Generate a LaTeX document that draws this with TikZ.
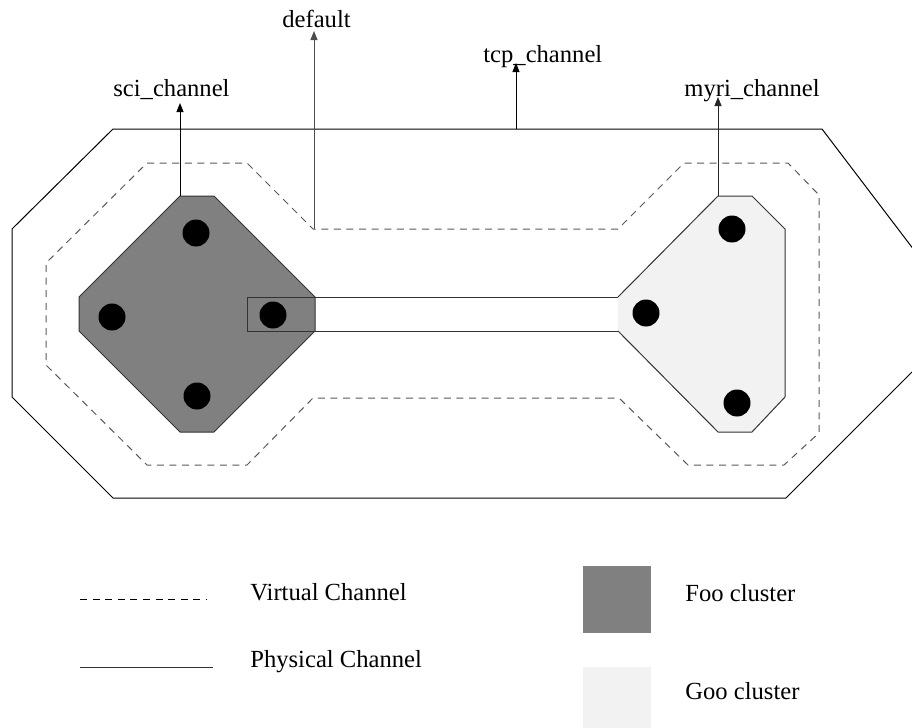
\documentclass[tikz,border=0pt]{standalone}
\usepackage{fontspec}
\setmainfont{Liberation Serif}
\usetikzlibrary{arrows.meta}

\definecolor{fooGray}{HTML}{808080}
\definecolor{gooGray}{HTML}{F2F2F2}

\tikzset{
  dot/.style={circle, fill=black, inner sep=0pt, minimum size=13.5pt},
  lbl/.style={anchor=base west, inner sep=0pt, font=\fontsize{12.3}{14}\selectfont},
  vchan/.style={draw=black!65, line width=0.5pt, dash pattern=on 3.5pt off 2.8pt},
  pchan/.style={draw=black, line width=0.5pt},
  edge/.style={draw=black!80, line width=0.5pt},
  up/.style={-{Triangle[length=4.5pt,width=3.5pt]}, line width=0.5pt},
}

\begin{document}
\begin{tikzpicture}[x=0.5pt, y=-0.5pt]
    \useasboundingbox (0,0) rectangle (912,728);
    \clip (0,0) rectangle (912,728);

    % physical and virtual channels
    \draw[pchan] (113,129) -- (822,129) -- (930,271) -- (930,354) -- (786,498) -- (113,498) -- (12,397) -- (12,229) -- cycle;
    \draw[vchan] (147,163) -- (247,163) -- (313,229) -- (618,229) -- (684,163) -- (788,163) -- (819,195) -- (819,433) -- (784,465) -- (688,465) -- (619,398) -- (313,398) -- (247,465) -- (147,465) -- (46,365) -- (46,263) -- cycle;

    % clusters
    \filldraw[edge, fill=fooGray] (180,196) -- (214,196) -- (315,297) -- (315,331) -- (214,432) -- (180,432) -- (79,331) -- (79,297) -- cycle;
    \fill[gooGray] (718,196) -- (752,196) -- (785,229) -- (785,397) -- (752,432) -- (718,432) -- (618,331) -- (618,297) -- cycle;
    \draw[edge] (618,331) -- (718,432) -- (752,432) -- (785,397) -- (785,229) -- (752,196) -- (718,196) -- (618,297);
    \draw[edge] (618,297) -- (247,297) -- (247,331) -- (618,331);

    \node[dot] (F1) at (196,233) {};
    \node[dot] (F2) at (112,317) {};
    \node[dot] (F3) at (197,396) {};
    \node[dot] (F4) at (273,315) {};
    \node[dot] (G1) at (732,229) {};
    \node[dot] (G2) at (646,313) {};
    \node[dot] (G3) at (737,403) {};

    % channel names
    \node[lbl] (sci) at (113,97) {sci\_channel};
    \node[lbl] (def) at (282,27) {default};
    \node[lbl] (tcp) at (483,62) {tcp\_channel};
    \node[lbl] (myri) at (684,97) {myri\_channel};

    \coordinate (sciFoot) at (180,196);
    \coordinate (sciTip) at (180,103);
    \coordinate (defFoot) at (314,229);
    \coordinate (defTip) at (314,31);
    \coordinate (tcpFoot) at (516,129);
    \coordinate (tcpTip) at (516,63);
    \coordinate (myriFoot) at (718,196);
    \coordinate (myriTip) at (718,97);

    \draw[up] (sciFoot) -- (sciTip);
    \draw[up, black!70] (defFoot) -- (defTip);
    \draw[up] (tcpFoot) -- (tcpTip);
    \draw[up, black!85] (myriFoot) -- (myriTip);

    % legend
    \coordinate (V1) at (80,599);
    \coordinate (V2) at (207,599);
    \coordinate (P1) at (80,667);
    \coordinate (P2) at (213,667);
    \draw[vchan, draw=black] (V1) -- (V2);
    \draw[pchan, draw=black!80] (P1) -- (P2);
    \node[lbl] (vtxt) at (250,600) {Virtual Channel};
    \node[lbl] (ptxt) at (250,667) {Physical Channel};

    \fill[fooGray] (583,566) rectangle (651,633);
    \fill[gooGray] (583,667) rectangle (651,728);
    \node[lbl] (ftxt) at (685,601) {Foo cluster};
    \node[lbl] (gtxt) at (685,699) {Goo cluster};
\end{tikzpicture}
\end{document}
